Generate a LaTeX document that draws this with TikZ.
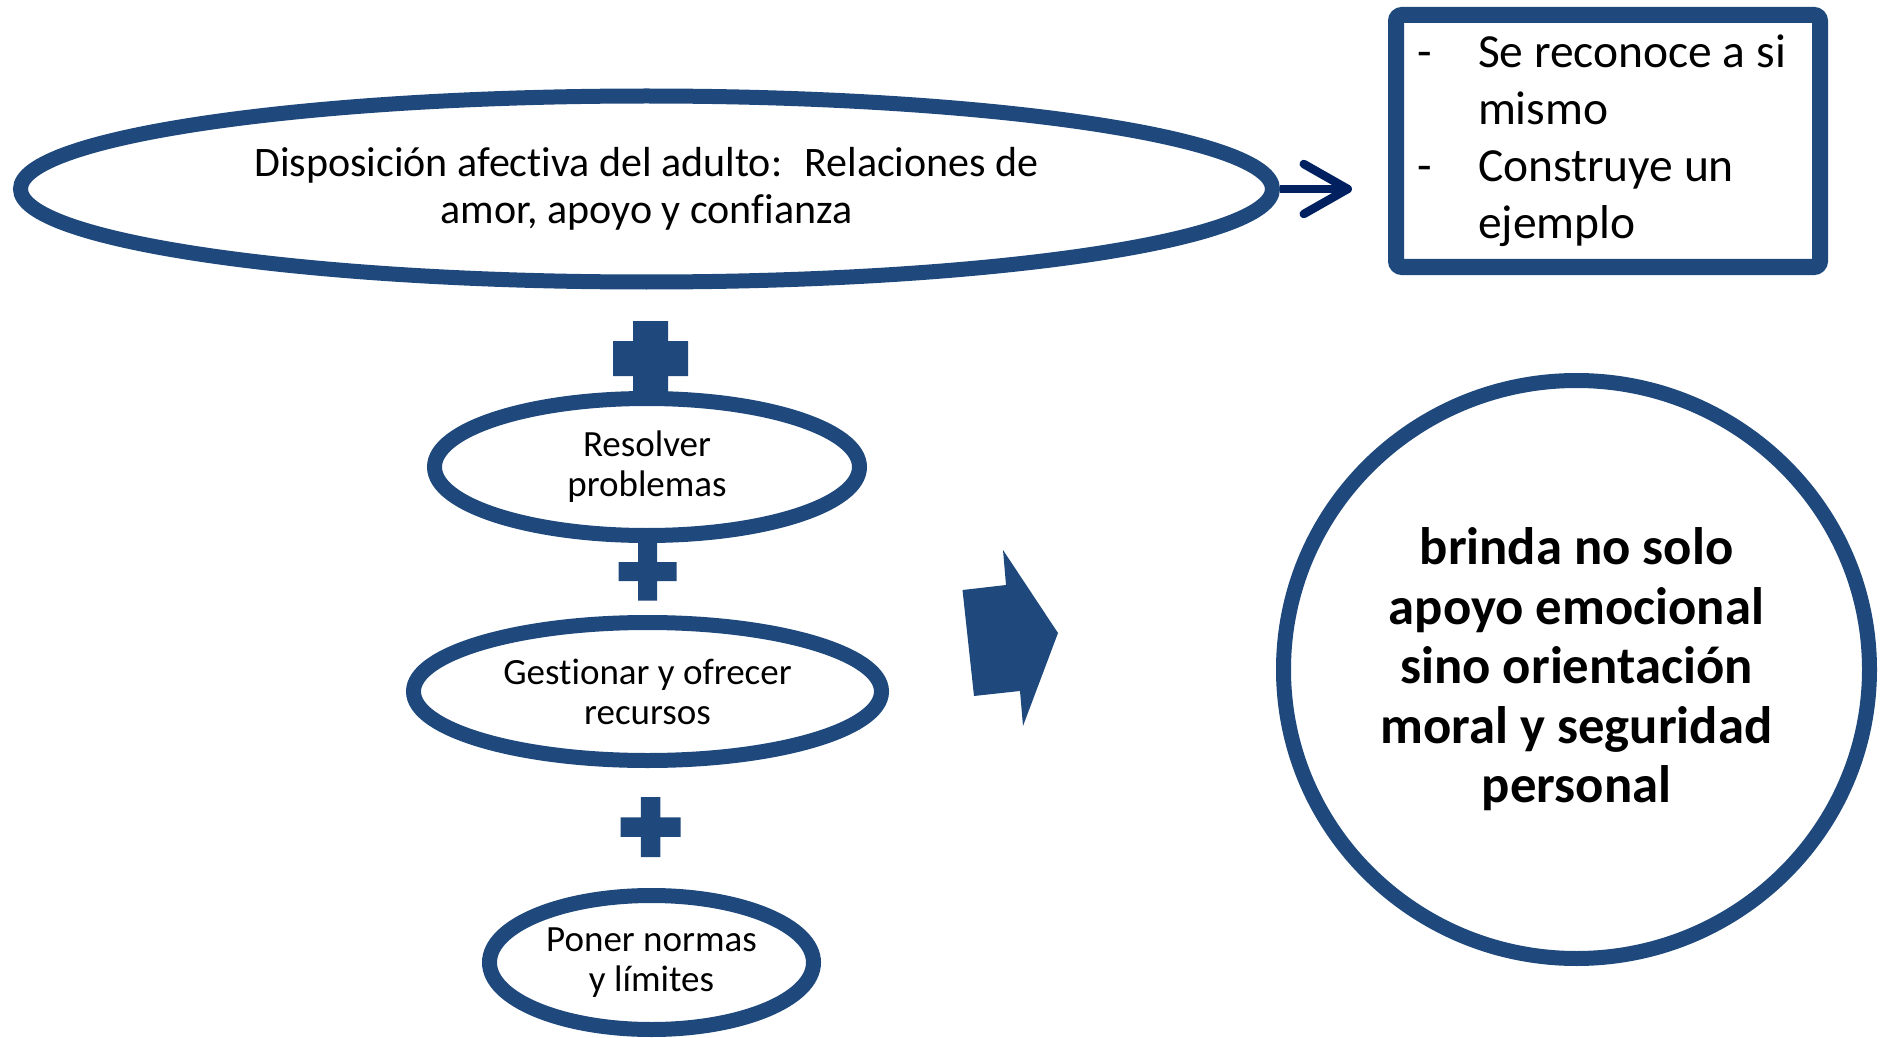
\documentclass[tikz,border=0pt]{standalone}
\usepackage{fontspec}
\setmainfont{Carlito}[Ligatures=NoCommon]
\usetikzlibrary{arrows.meta, shapes.geometric}

\definecolor{frameblue}{RGB}{31,73,125}
\definecolor{navy}{RGB}{0,32,96}

\begin{document}
\begin{tikzpicture}[x=0.5pt, y=-0.5pt,
oval/.style={ellipse, draw=frameblue, line width=7.5pt, fill=white, inner sep=0pt, align=center},
smalltext/.style={font=\fontsize{18.5}{20}\selectfont},
plusfill/.style={fill=frameblue},
link/.style={draw=navy, line width=4.25pt, -{Straight Barb[length=22pt, width=25pt, round]}, shorten >=18pt}]
\useasboundingbox (0,0) rectangle (1887,1038);

%Plus signs
\foreach \cx/\cy/\hl/\hw in {650.5/358.5/37.5/17.5, 647.5/571.5/29/9.5, 650.5/827/30/9.75}
  \fill[plusfill] (\cx-\hl,\cy-\hw) rectangle (\cx+\hl,\cy+\hw)
                  (\cx-\hw,\cy-\hl) rectangle (\cx+\hw,\cy+\hl);

%Adult
\node[oval, minimum width=626pt, minimum height=93pt, font=\fontsize{21}{23.5}\selectfont] (adulto) at (646.5,189)
  {Disposición afectiva del adulto: \ Relaciones de\\amor, apoyo y confianza};

%Example box
\node[draw=frameblue, line width=8pt, rounded corners=3pt, minimum width=212pt, minimum height=126pt, inner sep=0pt,
  text width=191pt, align=flush left, font=\fontsize{23.75}{28.5}\selectfont] (ejemplo) at (1608,141)
  {\mbox{\makebox[30.5pt][l]{-}Se reconoce a si}\\
   \mbox{\hspace*{30.5pt}mismo}\\
   \mbox{\makebox[30.5pt][l]{-}Construye un}\\
   \mbox{\hspace*{30.5pt}ejemplo}};
\draw[link] (adulto.east) -- (adulto.east -| ejemplo.west);

%Actions
\node[oval, smalltext, minimum width=212.5pt, minimum height=68.5pt] (resolver) at (647,467) {Resolver\\problemas};
\node[oval, smalltext, minimum width=234pt, minimum height=69pt] (gestionar) at (647.5,691.5) {Gestionar y ofrecer\\recursos};
\node[oval, smalltext, minimum width=162pt, minimum height=67pt] (normas) at (651.5,962.5) {Poner normas\\y límites};

%Result
\fill[frameblue] (962.5,590) -- (1006,585) -- (1003,550) -- (1058,633) -- (1023,726) -- (1020,691) -- (974,696) -- cycle;
\node[oval, minimum width=293pt, minimum height=289pt, font=\bfseries\fontsize{26.35}{29.75}\selectfont] (apoyo) at (1576.5,669.5)
  {brinda no solo\\apoyo emocional\\sino orientación\\moral y seguridad\\personal};
\end{tikzpicture}
\end{document}
